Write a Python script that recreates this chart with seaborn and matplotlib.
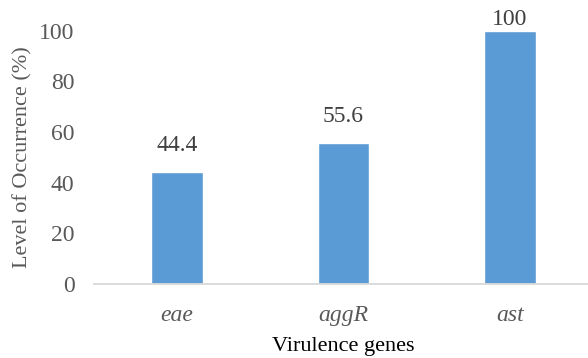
import matplotlib
matplotlib.use("Agg")
import matplotlib.pyplot as plt
import seaborn as sns
import pandas as pd

genes = ["eae", "aggR", "ast"]
occurrence = [44.4, 55.6, 100]
value_labels = ["44.4", "55.6", "100"]
y_ticks = [0, 20, 40, 60, 80, 100]

sns.set_theme(style="white")
plt.rcParams["font.family"] = ["Liberation Serif", "DejaVu Serif"]

df = pd.DataFrame({"gene": genes, "occurrence": occurrence})

fig = plt.figure(figsize=(5.88, 3.58), dpi=100)
ax = fig.add_axes([94 / 588, 1 - 284 / 358, (593 - 94) / 588, (284 - 30.7) / 358])

sns.barplot(data=df, x="gene", y="occurrence", color="#5B9BD5",
            width=0.312, saturation=1, ax=ax)

ax.set_xlim(-0.5, 2.5)
ax.set_ylim(0, 100)
ax.set_yticks(y_ticks)
ax.set_yticklabels([str(t) for t in y_ticks], fontsize=17, color="#595959")
ax.set_xticks(range(len(genes)))
ax.set_xticklabels(genes, fontsize=17, color="#595959", style="italic")
ax.tick_params(axis="both", length=0)
ax.tick_params(axis="y", pad=14)
ax.tick_params(axis="x", pad=15)

for side in ["top", "right", "left"]:
    ax.spines[side].set_visible(False)
ax.spines["bottom"].set_color("#D9D9D9")
ax.spines["bottom"].set_linewidth(1.3)

# value labels sit above each bar, kept inside the plot area at the top
for i, (v, lab) in enumerate(zip(occurrence, value_labels)):
    ax.text(i, min(v + 6.3, 100.2), lab, ha="center", va="bottom", fontsize=17,
            color="#404040", clip_on=False)

ax.set_xlabel("Virulence genes", fontsize=16, color="black", labelpad=8)
ax.set_ylabel("Level of Occurrence (%)", fontsize=16, color="#595959", labelpad=5)

fig.savefig("out.png", dpi=100)
